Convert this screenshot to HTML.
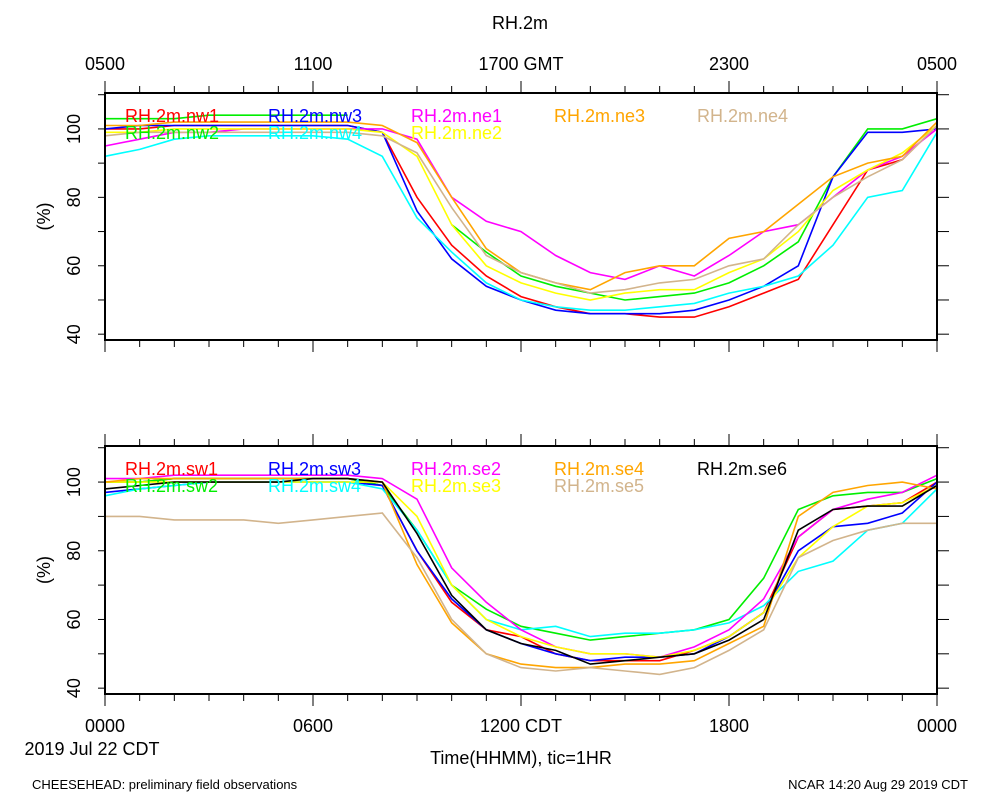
<!DOCTYPE html>
<html><head><meta charset="utf-8"><style>
body{margin:0;background:#fff;}
svg text{font-family:"Liberation Sans",sans-serif;}
</style></head><body>
<svg id="c" width="1000" height="800" xmlns="http://www.w3.org/2000/svg"></svg>
<script>
const hours=[0,1,2,3,4,5,6,7,8,9,10,11,12,13,14,15,16,17,18,19,20,21,22,23,24];
const topNames=["RH.2m.nw1","RH.2m.nw2","RH.2m.nw3","RH.2m.nw4","RH.2m.ne1","RH.2m.ne2","RH.2m.ne3","RH.2m.ne4"];
const topColors=["#ff0000","#00ee00","#0000ff","#00ffff","#ff00ff","#ffff00","#ffa500","#d2b48c"];
const nw1=[100,100,101,101,101,101,101,101,99,80,66,57,51,48,46,46,45,45,48,52,56,72,88,91,101];
const nw2=[103,103,103,104,104,104,104,104,null,null,72,64,57,54,52,50,51,52,55,60,67,86,100,100,103];
const nw3=[100,101,101,101,101,101,101,101,99,76,62,54,50,47,46,46,46,47,50,54,60,86,99,99,100];
const nw4=[92,94,97,98,98,98,98,97,92,74,64,55,50,48,47,47,48,49,52,54,57,66,80,82,99];
const ne1=[95,97,99,99,100,100,100,100,100,97,80,73,70,63,58,56,60,57,63,70,72,80,88,92,100];
const ne2=[99,99,100,100,100,100,100,100,99,92,72,60,55,52,50,52,53,53,58,62,70,82,88,93,101];
const ne3=[101,101,102,102,102,102,102,102,101,96,80,65,58,55,53,58,60,60,68,70,78,86,90,92,102];
const ne4=[98,99,99,99,99,99,99,99,98,93,77,63,58,55,52,53,55,56,60,62,72,80,86,91,101];
const topSeries=[nw1,nw2,nw3,nw4,ne1,ne2,ne3,ne4];
const botNames=["RH.2m.sw1","RH.2m.sw2","RH.2m.sw3","RH.2m.sw4","RH.2m.se2","RH.2m.se3","RH.2m.se4","RH.2m.se5","RH.2m.se6"];
const botColors=["#ff0000","#00ee00","#0000ff","#00ffff","#ff00ff","#ffff00","#ffa500","#d2b48c","#000000"];
const sw1=[100,100,101,101,101,101,101,101,99,80,65,57,55,50,48,48,48,51,55,62,84,92,93,94,100];
const sw2=[100,100,101,101,101,101,101,101,99,86,70,63,58,56,54,55,56,57,60,72,92,96,97,97,101];
const sw3=[97,98,99,100,100,100,100,100,99,80,66,57,53,50,48,49,49,50,55,62,80,87,88,91,100];
const sw4=[96,98,99,100,100,100,100,100,98,86,70,60,57,58,55,56,56,57,59,64,74,77,86,88,98];
const se2=[101,101,102,102,102,102,102,102,101,95,75,65,57,52,50,50,49,52,57,66,84,92,95,97,102];
const se3=[100,100,100,100,100,100,100,100,100,90,70,60,55,52,50,50,49,51,55,62,78,87,93,94,99];
const se4=[100,101,101,101,101,101,101,101,100,76,59,50,47,46,46,47,47,48,53,58,90,97,99,100,98];
const se5=[90,90,89,89,89,88,89,90,91,78,60,50,46,45,46,45,44,46,51,57,78,83,86,88,88];
const se6=[98,99,100,100,100,100,101,101,100,85,67,57,53,51,47,48,49,50,54,60,86,92,93,93,99];
const botSeries=[sw1,sw2,sw3,sw4,se2,se3,se4,se5,se6];
const yTicks=[40,60,80,100];
const topXLabels=["0500","1100","1700 GMT","2300","0500"];
const botXLabels=["0000","0600","1200 CDT","1800","0000"];

const NS="http://www.w3.org/2000/svg",svg=document.getElementById('c');
const X0=105,X1=937,YMIN=38.3,YMAX=110.5;
const topLegPos=[[125,0],[125,1],[268,0],[268,1],[411,0],[411,1],[554,0],[697,0]];
const botLegPos=[[125,0],[125,1],[268,0],[268,1],[411,0],[411,1],[554,0],[554,1],[697,0]];
function xs(h){return X0+(X1-X0)*h/24;}
function mk(t,a,parent){const e=document.createElementNS(NS,t);for(const k in a)e.setAttribute(k,a[k]);(parent||svg).appendChild(e);return e;}
function txt(s,x,y,size,anchor,fill,rot){const e=mk('text',{x:x,y:y,'font-size':size,'text-anchor':anchor||'middle',fill:fill||'#000'});if(rot)e.setAttribute('transform','rotate(-90 '+x+' '+y+')');e.textContent=s;return e;}

function panel(top,bot,series,names,colors,legPos,xlabels,xlabY,pname){
  const ys=v=>bot-(bot-top)*(v-YMIN)/(YMAX-YMIN);
  const g=mk('g',{});
  
  
  series.forEach((s,i)=>{
    let d='',pen=false;
    s.forEach((v,j)=>{if(v===null){pen=false;return;}d+=(pen?'L':'M')+xs(hours[j]).toFixed(1)+' '+ys(v).toFixed(1);pen=true;});
    const p=mk('path',{d:d,fill:'none',stroke:colors[i],'stroke-width':1.6},g);
    
    
  });
  mk('rect',{x:X0,y:top,width:X1-X0,height:bot-top,fill:'none',stroke:'#000','stroke-width':2},g);
  for(let h=0;h<=24;h++){
    const x=xs(h),L=(h%6===0)?12:7;
    mk('line',{x1:x,y1:top,x2:x,y2:top-L,stroke:'#000','stroke-width':1},g);
    mk('line',{x1:x,y1:bot,x2:x,y2:bot+L,stroke:'#000','stroke-width':1},g);
  }
  for(let v=40;v<=110;v+=10){
    const y=ys(v);
    mk('line',{x1:X0,y1:y,x2:X0-7,y2:y,stroke:'#000'},g);
    mk('line',{x1:X1,y1:y,x2:X1+12,y2:y,stroke:'#000'},g);
  }
  yTicks.forEach(v=>{txt(String(v),80,ys(v),18,'middle','#000',true);});
  const yt=txt('(%)',50,(top+bot)/2,18,'middle','#000',true);
  
  
  names.forEach((n,i)=>{
    const pos=legPos[i];
    const t=txt(n,pos[0],top+29+pos[1]*17,18,'start',colors[i]);
    
    
  });
  xlabels.forEach((l,i)=>{txt(l,xs(i*6),xlabY,18,'middle');});
}
panel(93,340,topSeries,topNames,topColors,topLegPos,topXLabels,70,'top-panel');
panel(446,694,botSeries,botNames,botColors,botLegPos,botXLabels,732,'bottom-panel');
const ti=txt('RH.2m',520,29,18);
txt('2019 Jul 22 CDT',92,755,18);
const xt=txt('Time(HHMM), tic=1HR',521,764,18);
txt('CHEESEHEAD: preliminary field observations',32,789,13,'start');
txt('NCAR 14:20 Aug 29 2019 CDT',968,789,13,'end');
</script>
</body></html>
